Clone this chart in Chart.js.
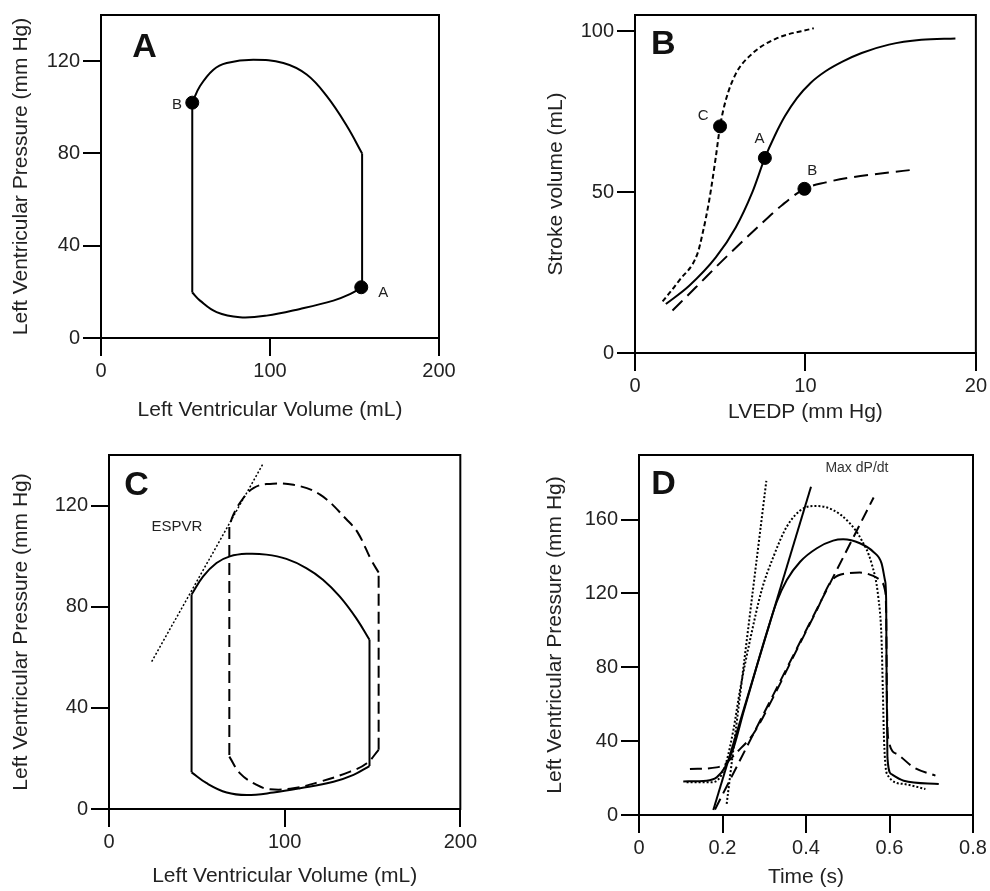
<!DOCTYPE html>
<html>
<head>
<meta charset="utf-8">
<script src="https://cdn.jsdelivr.net/npm/chart.js@4.4.1/dist/chart.umd.min.js"></script>
<style>
  body { margin: 0; background: #fff; }
  #wrap { position: relative; width: 990px; height: 891px; }
  canvas { position: absolute; }
</style>
</head>
<body>
<div id="wrap">
  <canvas id="chartA" width="480" height="440" style="left:0;top:0"></canvas>
  <canvas id="chartB" width="510" height="440" style="left:480px;top:0"></canvas>
  <canvas id="chartC" width="480" height="451" style="left:0;top:440px"></canvas>
  <canvas id="chartD" width="510" height="451" style="left:480px;top:440px"></canvas>
</div>
<script>
// ==========================================
// DATA  (pairs are [x, y] in axis units)
// ==========================================

// A. pressure-volume loop
const loopA_contract = [[154.5, 22], [154.5, 80]];
const loopA_eject = [[154.5, 80], [145.4, 92], [133.5, 104.9], [121.7, 114.2], [107.9, 119.2],
  [90.1, 120.6], [74.4, 119.2], [66.5, 116.3], [58.6, 109.2], [54, 102]];
const loopA_relax = [[54, 102], [54, 19.7]];
const loopA_fill = [[54, 19.7], [58.6, 16.2], [68.4, 11.2], [82.2, 9], [98, 9.7],
  [117.8, 12.6], [137.5, 16.2], [147.3, 19], [154.5, 22]];
const dotsA = [[154, 22], [54, 102]];
const dotLabelsA = ['A', 'B'];
const labelPosA = [[167, 19.7], [45, 101]];
const ticksA_x = [0, 100, 200];
const ticksA_y = [0, 40, 80, 120];

// B. Frank-Starling curves
const curveB_normal = [[1.81, 15.2], [3.18, 20.9], [4.74, 29.7], [5.91, 39.0], [6.88, 49.9],
  [7.62, 60.6], [8.2, 67.5], [8.8, 73.6], [9.5, 79.2], [10.3, 83.9], [11.2, 87.6], [12.2, 90.6],
  [13.3, 93.2], [14.9, 95.8], [16.8, 97.3], [18.8, 97.7]];
const curveB_inotropic = [[1.62, 16], [2.59, 22.5], [3.66, 30.8], [3.96, 37], [4.35, 47.3], [4.74, 60.8],
  [4.99, 70.4], [5.32, 78.4], [5.91, 86.7], [6.88, 93], [8.25, 97.6], [10.49, 100.9]];
const curveB_failing = [[2.2, 13.2], [3.57, 20.4], [5.13, 28.7], [7.08, 38.5], [8.64, 46], [9.94, 51],
  [11.2, 53], [12.5, 54.4], [14.3, 55.7], [16.43, 57]];
const dotsB = [[7.62, 60.6], [9.94, 51], [4.99, 70.4]];
const dotLabelsB = ['A', 'B', 'C'];
const labelPosB = [[7.3, 66.5], [10.4, 56.5], [4.0, 73.6]];
const ticksB_x = [0, 10, 20];
const ticksB_y = [0, 50, 100];

// C. loops with ESPVR
const loopC1_relax = [[47, 84.8], [47, 14.5]];
const loopC1_fill = [[47, 14.5], [55.6, 10.2], [67, 6.5], [78.4, 5.5], [93.6, 6.5], [108.8, 8.2],
  [127.8, 10.8], [139.2, 13.5], [148.3, 17]];
const loopC1_contract = [[148.3, 17], [148.3, 66.9]];
const loopC1_eject = [[148.3, 66.9], [140.7, 75.5], [131.3, 84.1], [121.8, 90.7], [112.3, 95.3],
  [101, 98.9], [89.6, 100.6], [78.2, 100.9], [68.8, 99.9], [61.2, 97.3], [53.6, 92], [47, 84.8]];
const loopC2_relax = [[68.5, 111.5], [68.5, 20.7]];
const loopC2_fill = [[68.5, 20.7], [74.6, 14.1], [84.1, 9.5], [91.7, 7.8], [105, 8.2], [120.2, 10.8],
  [137.3, 14.8], [146.8, 18.1], [153.5, 23.4]];
const loopC2_contract = [[153.5, 23.4], [153.5, 93.5]];
const loopC2_eject = [[153.5, 93.5], [149.2, 98.6], [141.7, 109.2], [135.4, 114.4], [120.2, 124.3],
  [105, 128.2], [89.8, 128.5], [82.2, 126.9], [76.5, 123], [70.8, 116.4], [68.5, 111.5]];
const espvr = [[24.3, 58.3], [87.9, 136.8]];
const ticksC_x = [0, 100, 200];
const ticksC_y = [0, 40, 80, 120];

// D. pressure vs time
const pressD_solid = [[0.106, 18.2], [0.162, 18.6], [0.186, 20.4], [0.206, 25.8], [0.226, 36],
  [0.250, 55.5], [0.280, 79], [0.305, 98], [0.330, 115.5], [0.354, 127.3], [0.386, 137.2],
  [0.426, 144.5], [0.465, 148.6], [0.489, 149.3], [0.529, 147.2], [0.561, 142.6], [0.581, 136.3],
  [0.589, 127.3], [0.592, 116.5], [0.593, 76], [0.595, 31.2], [0.604, 22.2], [0.634, 18.6], [0.718, 16.8]];
const pressD_dashed = [[0.122, 24.9], [0.186, 25.8], [0.206, 27.6], [0.234, 33.9], [0.274, 44],
  [0.322, 64], [0.378, 89.5], [0.426, 111], [0.4615, 127], [0.497, 130.9], [0.529, 131.3],
  [0.561, 129.5], [0.581, 126.4], [0.589, 121.9], [0.592, 110], [0.594, 58.3], [0.598, 40.3],
  [0.618, 33], [0.658, 25.8], [0.710, 21.3]];
const pressD_dotted = [[0.114, 17.7], [0.170, 17.7], [0.194, 20.4], [0.210, 29.4], [0.226, 46],
  [0.242, 67.7], [0.266, 94.8], [0.294, 121.9], [0.322, 139.9], [0.354, 156.2], [0.394, 166.1],
  [0.426, 167.4], [0.465, 165.2], [0.505, 158], [0.533, 149], [0.557, 136.3], [0.573, 118.3],
  [0.581, 94.8], [0.584, 67.7], [0.587, 40.3], [0.594, 22.2], [0.634, 16.8], [0.686, 14.1]];
const tangentD_solid = [[0.178, 2.7], [0.412, 177.8]];
const tangentD_dotted = [[0.210, 6], [0.305, 181]];
const tangentD_dashed = [[0.182, 3], [0.562, 172]];
const ticksD_x = [0, 0.2, 0.4, 0.6, 0.8];
const ticksD_y = [0, 40, 80, 120, 160];

// ==========================================
// HELPERS
// ==========================================
const FONT = "'Liberation Sans', Arial, sans-serif";
const tickFont = { family: FONT, size: 20 };
const titleFont = { family: FONT, size: 21 };
const DASH = [12, 6];
const SHORT_DASH = [5, 3];
const DOT = [2, 2];

const toXY = (pairs) => pairs.map(([x, y]) => ({ x, y }));

function curve(pairs, dash, extra) {
  return Object.assign({
    data: toXY(pairs),
    showLine: true,
    borderColor: '#000',
    borderWidth: 2,
    borderDash: dash || [],
    pointRadius: 0,
    fill: false,
    tension: 0.4,
  }, extra || {});
}

function dots(pairs) {
  return {
    data: toXY(pairs),
    showLine: false,
    pointRadius: 6.5,
    pointBackgroundColor: '#000',
    pointBorderColor: '#000',
  };
}

function axis(min, max, tickVals, title, size, titlePad) {
  return {
    type: 'linear',
    min: min,
    max: max,
    afterBuildTicks: (s) => { s.ticks = tickVals.map((v) => ({ value: v })); },
    afterFit: (s) => { if (s.isHorizontal()) s.height = size; else s.width = size; },
    grid: { drawOnChartArea: false, drawTicks: true, tickLength: 18, color: '#000', lineWidth: 2 },
    border: { display: true, color: '#000', width: 2 },
    ticks: { color: '#222', padding: 3, font: tickFont, maxRotation: 0, autoSkip: false },
    title: { display: true, text: title, color: '#222', font: titleFont, padding: titlePad },
  };
}

// frame + text notes placed in data units
const notesPlugin = {
  id: 'notes',
  afterDatasetsDraw(chart, args, opts) {
    const { ctx, chartArea, scales } = chart;
    ctx.save();
    ctx.strokeStyle = '#000';
    ctx.lineWidth = 2;
    ctx.strokeRect(chartArea.left, chartArea.top, chartArea.width, chartArea.height);
    (opts.items || []).forEach((n) => {
      ctx.font = n.font;
      ctx.fillStyle = n.color || '#222';
      ctx.textAlign = 'center';
      ctx.textBaseline = 'middle';
      ctx.fillText(n.text, scales.x.getPixelForValue(n.x), scales.y.getPixelForValue(n.y));
    });
    ctx.restore();
  },
};

const letterFont = 'bold 34px ' + FONT;
const smallFont = '15px ' + FONT;

function baseOptions(padding, xScale, yScale, notes) {
  return {
    responsive: false,
    animation: false,
    devicePixelRatio: 1,
    layout: { padding: padding },
    plugins: { legend: { display: false }, tooltip: { enabled: false }, notes: { items: notes } },
    scales: { x: xScale, y: yScale },
  };
}

// ==========================================
// A. PV LOOP
// ==========================================
const notesA = [{ text: 'A', x: 25.7, y: 125.8, font: letterFont, color: '#111' }]
  .concat(dotLabelsA.map((t, i) => ({ text: t, x: labelPosA[i][0], y: labelPosA[i][1], font: smallFont })));

new Chart(document.getElementById('chartA'), {
  type: 'scatter',
  data: {
    datasets: [
      curve(loopA_contract, [], { tension: 0 }),
      curve(loopA_eject),
      curve(loopA_relax, [], { tension: 0 }),
      curve(loopA_fill),
      dots(dotsA),
    ],
  },
  options: baseOptions({ top: 12, right: 41, left: 0, bottom: 0 },
    axis(0, 200, ticksA_x, 'Left Ventricular Volume (mL)', 102, { top: 0, bottom: 17 }),
    axis(0, 140, ticksA_y, 'Left Ventricular Pressure (mm Hg)', 101, { top: 9, bottom: 0 }),
    notesA),
  plugins: [notesPlugin],
});

// ==========================================
// B. STARLING CURVES
// ==========================================
const notesB = [{ text: 'B', x: 1.66, y: 95.7, font: letterFont, color: '#111' }]
  .concat(dotLabelsB.map((t, i) => ({ text: t, x: labelPosB[i][0], y: labelPosB[i][1], font: smallFont })));

new Chart(document.getElementById('chartB'), {
  type: 'scatter',
  data: {
    datasets: [
      curve(curveB_normal, [], { cubicInterpolationMode: 'monotone' }),
      curve(curveB_inotropic, SHORT_DASH, { cubicInterpolationMode: 'monotone' }),
      curve(curveB_failing, [14, 7], { cubicInterpolationMode: 'monotone' }),
      dots(dotsB),
    ],
  },
  options: baseOptions({ top: 15, right: 12, left: 0, bottom: 0 },
    axis(0, 20, ticksB_x, 'LVEDP (mm Hg)', 87, { top: 0, bottom: 15 }),
    axis(0, 105, ticksB_y, 'Stroke volume (mL)', 155, { top: 64, bottom: 0 }),
    notesB),
  plugins: [notesPlugin],
});

// ==========================================
// C. LOOPS + ESPVR
// ==========================================
const notesC = [
  { text: 'C', x: 15.6, y: 128, font: letterFont, color: '#111' },
  { text: 'ESPVR', x: 38.6, y: 111.5, font: smallFont },
];

new Chart(document.getElementById('chartC'), {
  type: 'scatter',
  data: {
    datasets: [
      curve(loopC1_relax, [], { tension: 0 }),
      curve(loopC1_fill),
      curve(loopC1_contract, [], { tension: 0 }),
      curve(loopC1_eject),
      curve(loopC2_relax, DASH, { tension: 0 }),
      curve(loopC2_fill, DASH),
      curve(loopC2_contract, DASH, { tension: 0 }),
      curve(loopC2_eject, DASH),
      curve(espvr, DOT, { tension: 0, borderWidth: 1.5 }),
    ],
  },
  options: baseOptions({ top: 15, right: 19, left: 0, bottom: 0 },
    axis(0, 200, ticksC_x, 'Left Ventricular Volume (mL)', 82, { top: 0, bottom: 2 }),
    axis(0, 140, ticksC_y, 'Left Ventricular Pressure (mm Hg)', 109, { top: 9, bottom: 0 }),
    notesC),
  plugins: [notesPlugin],
});

// ==========================================
// D. PRESSURE TRACES + MAX dP/dt
// ==========================================
const notesD = [
  { text: 'D', x: 0.0587, y: 178.8, font: letterFont, color: '#111' },
  { text: 'Max dP/dt', x: 0.522, y: 188, font: '14px ' + FONT, color: '#333' },
];

new Chart(document.getElementById('chartD'), {
  type: 'scatter',
  data: {
    datasets: [
      curve(pressD_solid, [], { cubicInterpolationMode: 'monotone' }),
      curve(pressD_dashed, DASH, { cubicInterpolationMode: 'monotone' }),
      curve(pressD_dotted, DOT, { cubicInterpolationMode: 'monotone' }),
      curve(tangentD_solid, [], { tension: 0 }),
      curve(tangentD_dotted, DOT, { tension: 0 }),
      curve(tangentD_dashed, DASH, { tension: 0 }),
    ],
  },
  options: baseOptions({ top: 15, right: 17, left: 0, bottom: 0 },
    axis(0, 0.8, ticksD_x, 'Time (s)', 76, { top: 0, bottom: 1 }),
    axis(0, 195, ticksD_y, 'Left Ventricular Pressure (mm Hg)', 159, { top: 63, bottom: 0 }),
    notesD),
  plugins: [notesPlugin],
});
</script>
</body>
</html>
